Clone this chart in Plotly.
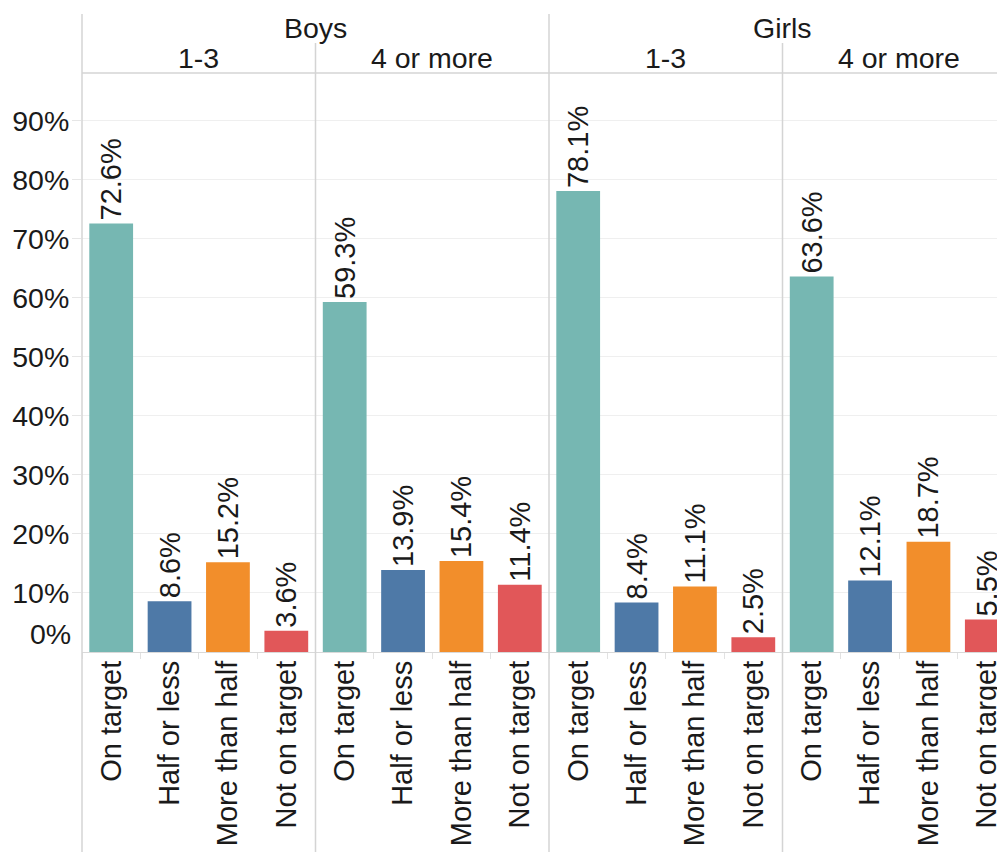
import plotly.graph_objects as go

# ---- data ----
categories = ["On target", "Half or less", "More than half", "Not on target"]
bar_colors = ["#76B7B2", "#4E79A7", "#F28E2B", "#E15759"]
gender_headers = ["Boys", "Girls"]
group_headers = ["1-3", "4 or more", "1-3", "4 or more"]
boys_1_3 = [72.6, 8.6, 15.2, 3.6]
boys_4plus = [59.3, 13.9, 15.4, 11.4]
girls_1_3 = [78.1, 8.4, 11.1, 2.5]
girls_4plus = [63.6, 12.1, 18.7, 5.5]
panel_values = [boys_1_3, boys_4plus, girls_1_3, girls_4plus]
y_tick_values = [0, 10, 20, 30, 40, 50, 60, 70, 80, 90]
y_tick_labels = ["0%", "10%", "20%", "30%", "40%", "50%", "60%", "70%", "80%", "90%"]

# ---- layout geometry (pixels); page body has an 8px margin ----
OFF = 8
W, H = 1005 - OFF, 852 - OFF
ML, MT, MB = 82 - OFF, 73 - OFF, 200
plot_w = W - ML
plot_h = H - MT - MB
panel_px = 233.5
FONT = "Liberation Sans, Arial, sans-serif"
TXT = "#1a1a1a"
FS = 28.5
FS_BAR = 29


def py(p):  # reference pixel y -> paper y
    return (H - MB - (p - OFF)) / plot_h


def px(p):  # reference pixel x -> paper x
    return (p - OFF - ML) / plot_w


fig = go.Figure()
domains = []
for i in range(4):
    d0 = i * panel_px / plot_w
    d1 = min(1.0, (i + 1) * panel_px / plot_w)
    domains.append([d0, d1])

for i, vals in enumerate(panel_values):
    xa = "x" if i == 0 else f"x{i+1}"
    fig.add_trace(go.Bar(
        x=categories, y=vals, xaxis=xa, yaxis="y",
        marker=dict(color=bar_colors, line=dict(width=0)),
        width=0.75,
        text=[f"{v:.1f}%" for v in vals],
        textposition="outside", textangle=-90,
        textfont=dict(family=FONT, size=FS_BAR, color=TXT),
        constraintext="none", cliponaxis=False,
        showlegend=False, hoverinfo="skip",
    ))

for i in range(4):
    key = "xaxis" if i == 0 else f"xaxis{i+1}"
    full = 4 * (domains[i][1] - domains[i][0]) * plot_w / panel_px
    fig.layout[key] = dict(
        domain=domains[i], anchor="y", type="category",
        range=[-0.5, -0.5 + full],
        showgrid=False, zeroline=False, showline=False,
        ticks="outside", tickson="boundaries", ticklen=6, tickcolor="#e2e2e2",
        tickangle=-90, ticklabelstandoff=2,
        tickfont=dict(family=FONT, size=FS_BAR, color=TXT),
        fixedrange=True,
    )

fig.update_layout(
    yaxis=dict(
        domain=[0, 1], anchor="x", range=[0, 98.1],
        tickvals=y_tick_values[1:], ticktext=y_tick_labels[1:],
        ticks="outside", ticklen=9, tickcolor="#e6e6e6",
        ticklabelstandoff=-3,
        showgrid=True, gridcolor="#efefef", gridwidth=1,
        zeroline=True, zerolinecolor="#d9d9d9", zerolinewidth=1,
        showline=False,
        tickfont=dict(family=FONT, size=FS, color=TXT),
    ),
    width=W, height=H, autosize=False,
    margin=dict(l=ML, r=0, t=MT, b=MB, pad=0),
    plot_bgcolor="white", paper_bgcolor="white",
    bargap=0.25,
)

# 0% label sits slightly above the baseline
fig.add_annotation(xref="paper", yref="y", x=0, y=y_tick_values[0], text=y_tick_labels[0],
                   xanchor="right", yanchor="middle", xshift=-9, yshift=18, showarrow=False,
                   font=dict(family=FONT, size=FS, color=TXT))

# headers
for g, name in enumerate(gender_headers):
    cx = 82 + (2 * g + 1) * panel_px
    fig.add_annotation(xref="paper", yref="paper", x=px(cx), y=py(28), text=name,
                       xanchor="center", yanchor="middle", showarrow=False,
                       font=dict(family=FONT, size=FS, color=TXT))
for i, name in enumerate(group_headers):
    cx = 82 + (i + 0.5) * panel_px
    fig.add_annotation(xref="paper", yref="paper", x=px(cx), y=py(58), text=name,
                       xanchor="center", yanchor="middle", showarrow=False,
                       font=dict(family=FONT, size=FS, color=TXT))

LINE = dict(color="#d4d4d4", width=1.5)
# vertical dividers
for i in range(4):
    xp = px(82 + i * panel_px)
    ytop = py(14) if i % 2 == 0 else py(43)
    fig.add_shape(type="line", xref="paper", yref="paper", x0=xp, x1=xp,
                  y0=ytop, y1=py(852), line=LINE, layer="above")
# header bottom line
fig.add_shape(type="line", xref="paper", yref="paper", x0=0, x1=1, y0=1, y1=1,
              line=LINE, layer="above")

fig.write_html("out.html")
